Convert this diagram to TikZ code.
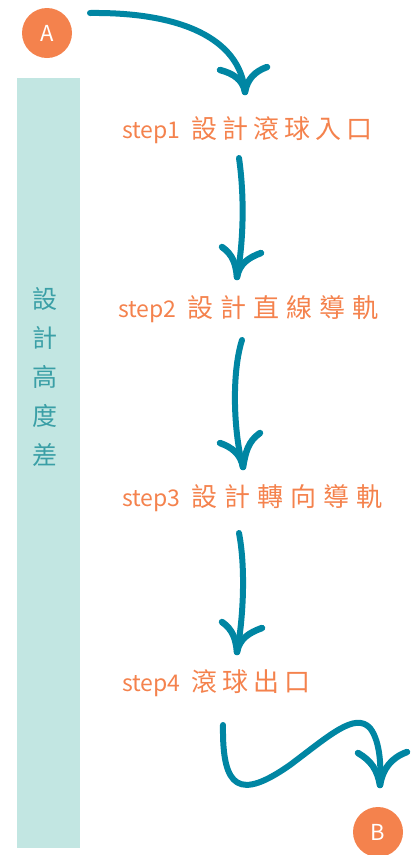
\documentclass[tikz,border=0pt]{standalone}
\usepackage{fontspec}
\newfontfamily\cjk{Noto Sans CJK TC}
\definecolor{orng}{HTML}{F4824D}
\definecolor{arrowc}{HTML}{0086A3}
\definecolor{barc}{HTML}{C2E6E2}
\definecolor{vtext}{HTML}{3A9FA6}
\newcommand\lat[1]{{\fontsize{23}{26}\selectfont #1}\hspace{11pt}}
\begin{document}
\begin{tikzpicture}[x=1pt,y=-1pt,
  arr/.style={draw=arrowc,line width=6pt,line cap=round,line join=round},
  barbline/.style={draw=arrowc,line width=6.5pt,line cap=round},
  stepnode/.style={anchor=west,text=orng,font=\cjk\fontsize{26}{30}\selectfont,inner sep=0pt},
  endpt/.style={circle,fill=orng,minimum size=50pt,inner sep=0pt,text=white,font=\cjk\fontsize{22}{24}\selectfont}]
\useasboundingbox (0,0) rectangle (412,855);
% side bar
\node[fill=barc,minimum width=63pt,minimum height=770pt,inner sep=0pt] (bar) at (48.5,463) {};
\node[text=vtext,font=\cjk\fontsize{25}{39}\selectfont,align=center,inner sep=0pt] (vlabel) at (45,377) {設\\計\\高\\度\\差};
% end points
\node[endpt] (A) at (47,33) {A};
\node[endpt] (B) at (378,832) {B};
% steps
\node[stepnode] (st1) at (122,130) {\lat{step1}設\hspace{5pt}計\hspace{5pt}滾\hspace{5pt}球\hspace{5pt}入\hspace{5pt}口};
\node[stepnode] (st2) at (118,309) {\lat{step2}設\hspace{7pt}計\hspace{7pt}直\hspace{7pt}線\hspace{7pt}導\hspace{7pt}軌};
\node[stepnode] (st3) at (122,498) {\lat{step3}設\hspace{7pt}計\hspace{7pt}轉\hspace{7pt}向\hspace{7pt}導\hspace{7pt}軌};
\node[stepnode] (st4) at (122,683) {\lat{step4}滾\hspace{5pt}球\hspace{5pt}出\hspace{5pt}口};
% connector ends
\coordinate (s1) at (90,13);   \coordinate (t1) at (245,92);
\coordinate (s2) at (239,158); \coordinate (t2) at (237,277);
\coordinate (s3) at (242,340); \coordinate (t3) at (243,467);
\coordinate (s4) at (239,533); \coordinate (t4) at (237,652);
\coordinate (s5) at (223,725); \coordinate (t5) at (380,785);
% shafts
\draw[arr] (s1) .. controls (180,12) and (240,38) .. (t1);
\draw[arr] (s2) .. controls (245,200) and (243,245) .. (t2);
\draw[arr] (s3) .. controls (231,375) and (234,435) .. (t3);
\draw[arr] (s4) .. controls (246,570) and (243,620) .. (t4);
\draw[arr] (s5) .. controls (222,790) and (240,800) .. (290,765)
  .. controls (330,735) and (355,712) .. (370,728)
  .. controls (381,742) and (381,770) .. (t5);
% barbs
\draw[barbline] (t1) to[out=100,in=-15] ++(-25,-22);
\draw[barbline] (t1) to[out=80,in=200] ++(22,-25);
\draw[barbline] (t2) to[out=95,in=-35] ++(-15,-30);
\draw[barbline] (t2) to[out=80,in=200] ++(24,-24);
\draw[barbline] (t3) to[out=100,in=-20] ++(-23,-24);
\draw[barbline] (t3) to[out=80,in=215] ++(17,-34);
\draw[barbline] (t4) to[out=95,in=-35] ++(-15,-30);
\draw[barbline] (t4) to[out=80,in=200] ++(25,-24);
\draw[barbline] (t5) to[out=100,in=-30] ++(-22,-32);
\draw[barbline] (t5) to[out=80,in=200] ++(27,-33);
\end{tikzpicture}
\end{document}
